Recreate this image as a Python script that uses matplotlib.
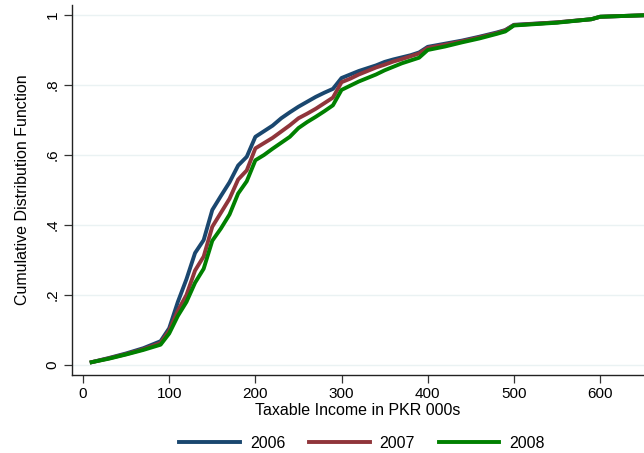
import matplotlib
matplotlib.use("Agg")
import matplotlib.pyplot as plt

income = [10, 30, 50, 70, 90, 100, 110, 120, 130, 140, 150, 160, 170, 180, 190,
          200, 210, 220, 230, 240, 250, 260, 270, 280, 290, 300, 310, 320, 330,
          340, 350, 360, 370, 380, 390, 400, 420, 440, 460, 480, 490, 500, 550,
          590, 600, 660]

cdf_2006 = [0.008, 0.020, 0.033, 0.048, 0.068, 0.105, 0.180, 0.245, 0.320, 0.357,
            0.443, 0.483, 0.522, 0.570, 0.595, 0.652, 0.668, 0.684, 0.705, 0.722,
            0.738, 0.752, 0.766, 0.778, 0.789, 0.820, 0.830, 0.840, 0.848, 0.856,
            0.866, 0.873, 0.879, 0.885, 0.893, 0.909, 0.918, 0.927, 0.938, 0.950,
            0.957, 0.972, 0.979, 0.988, 0.995, 1.000]

cdf_2007 = [0.008, 0.019, 0.031, 0.045, 0.063, 0.098, 0.155, 0.200, 0.270, 0.310,
            0.395, 0.435, 0.475, 0.530, 0.556, 0.619, 0.634, 0.649, 0.667, 0.685,
            0.705, 0.718, 0.732, 0.748, 0.764, 0.808, 0.818, 0.830, 0.840, 0.850,
            0.858, 0.867, 0.874, 0.882, 0.890, 0.906, 0.915, 0.925, 0.936, 0.948,
            0.956, 0.971, 0.979, 0.988, 0.995, 1.000]

cdf_2008 = [0.008, 0.018, 0.030, 0.043, 0.058, 0.090, 0.140, 0.180, 0.235, 0.275,
            0.355, 0.390, 0.430, 0.490, 0.525, 0.585, 0.600, 0.618, 0.635, 0.652,
            0.677, 0.694, 0.709, 0.725, 0.742, 0.786, 0.798, 0.810, 0.820, 0.830,
            0.842, 0.852, 0.862, 0.870, 0.878, 0.900, 0.910, 0.922, 0.933, 0.946,
            0.953, 0.970, 0.978, 0.988, 0.995, 1.000]

series = [("2006", cdf_2006, "#1a476f"),
          ("2007", cdf_2007, "#90353b"),
          ("2008", cdf_2008, "#008000")]

xticks = [0, 100, 200, 300, 400, 500, 600]
yticks = [0, 0.2, 0.4, 0.6, 0.8, 1.0]
yticklabels = ["0", ".2", ".4", ".6", ".8", "1"]

plt.rcParams['font.family'] = ['Liberation Sans', 'DejaVu Sans']

fig = plt.figure(figsize=(6.44, 4.53), dpi=100)
ax = fig.add_axes([72 / 644, 1 - 375 / 453, 1 - 72 / 644, (375 - 5) / 453])

for label, vals, color in series:
    ax.plot(income, vals, color=color, lw=2.8, label=label, solid_joinstyle='round')

ax.set_xlim(-12.8, 651)
ax.set_ylim(-0.0286, 1.0286)

ax.set_xticks(xticks)
ax.set_yticks(yticks)
ax.set_yticklabels(yticklabels, rotation=90, va='center')
ax.tick_params(axis='both', labelsize=11, length=6, width=0.9, color='#333333', pad=3)
ax.grid(axis='y', color='#eaf2f3', lw=1.0)
ax.set_axisbelow(True)

for s in ['top', 'right']:
    ax.spines[s].set_visible(False)
for s in ['left', 'bottom']:
    ax.spines[s].set_linewidth(1.0)
    ax.spines[s].set_color('#222222')

ax.set_xlabel("Taxable Income in PKR 000s", fontsize=11.5, labelpad=1)
ax.set_ylabel("Cumulative Distribution Function", fontsize=11.5, labelpad=11)

fig.legend(loc='center', bbox_to_anchor=(362 / 644, 1 - 443 / 453), ncol=3,
           frameon=False, fontsize=11.5, handlelength=3.8, handletextpad=0.6,
           columnspacing=1.5)

fig.savefig("out.png", dpi=100)
